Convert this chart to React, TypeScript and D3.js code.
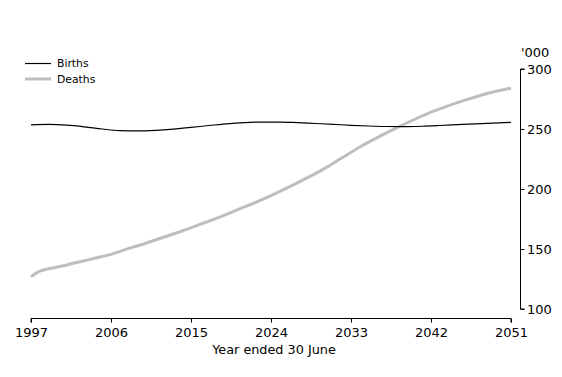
import React from "react";
import * as d3 from "d3";

const birthYears = [1997, 1999, 2001, 2003, 2005, 2007, 2009, 2011, 2013, 2015, 2017, 2019, 2021, 2023, 2025, 2027, 2029, 2031, 2033, 2035, 2037, 2039, 2041, 2043, 2045, 2047, 2049, 2051];
const births = [253.5, 253.8, 253.2, 251.8, 250.0, 248.6, 248.4, 248.9, 249.9, 251.3, 252.9, 254.3, 255.3, 255.8, 255.8, 255.3, 254.6, 253.9, 253.1, 252.5, 252.1, 252.0, 252.3, 252.9, 253.6, 254.3, 254.9, 255.5];

const deathYears = [1997, 1998, 1999, 2000, 2002, 2004, 2006, 2008, 2010, 2012, 2014, 2016, 2018, 2020, 2022, 2024, 2026, 2028, 2030, 2032, 2034, 2036, 2038, 2040, 2042, 2044, 2046, 2048, 2050, 2051];
const deaths = [127, 131.5, 133.5, 135, 138.5, 142, 145.5, 150.5, 155, 160, 165, 170.5, 176, 182, 188, 194.5, 201.5, 209, 217, 226, 235, 243, 250.5, 257.5, 264, 269.5, 274.5, 279, 282.5, 284];

const xTicks = [1997, 2006, 2015, 2024, 2033, 2042, 2051];
const yTicks = [100, 150, 200, 250, 300];
const seriesNames = ["Births", "Deaths"];

const FONT = "DejaVu Sans, sans-serif";

export default function App() {
  const x = d3.scaleLinear().domain([1997, 2051]).range([31, 511]);
  const y = d3.scaleLinear().domain([100, 300]).range([309, 69]);

  const lineB = d3
    .line<number>()
    .x((_, i) => x(birthYears[i]))
    .y((d) => y(d))
    .curve(d3.curveMonotoneX);
  const lineD = d3
    .line<number>()
    .x((_, i) => x(deathYears[i]))
    .y((d) => y(d))
    .curve(d3.curveMonotoneX);

  const xAxisY = 318.5;
  const yAxisX = 520.5;

  return (
    <svg
      width={562}
      height={377}
      style={{ position: "absolute", left: 0, top: 0, background: "#fff" }}
      fontFamily={FONT}
    >
      <rect x={0} y={0} width={562} height={377} fill="#fff" />
      {/* lines */}
      <path d={lineD(deaths) || ""} fill="none" stroke="#bebebe" strokeWidth={3} />
      <path d={lineB(births) || ""} fill="none" stroke="#000" strokeWidth={1.2} />

      {/* x axis */}
      <g>
        <path
          d={`M${x(1997)},${xAxisY + 4}V${xAxisY}H${x(2051)}V${xAxisY + 4}`}
          fill="none"
          stroke="#000"
          strokeWidth={1}
        />
        {xTicks.map((t) => (
          <g key={t} transform={`translate(${Math.round(x(t)) + 0.5},0)`}>
            <line y1={xAxisY} y2={xAxisY + 4} stroke="#000" />
            <text y={336.5} textAnchor="middle" fontSize={13} fill="#000">
              {t}
            </text>
          </g>
        ))}
        <text x={274} y={354} textAnchor="middle" fontSize={12.8} fill="#000">
          Year ended 30 June
        </text>
      </g>

      {/* y axis */}
      <g>
        <path
          d={`M${yAxisX + 4},${y(300)}H${yAxisX}V${y(100)}H${yAxisX + 4}`}
          fill="none"
          stroke="#000"
          strokeWidth={1}
        />
        {yTicks.map((t) => (
          <g key={t} transform={`translate(0,${Math.round(y(t)) + 0.5})`}>
            <line x1={yAxisX} x2={yAxisX + 4} stroke="#000" />
            <text x={527} y={4.5} fontSize={13} fill="#000">
              {t}
            </text>
          </g>
        ))}
        <text x={521} y={57} fontSize={13} fill="#000">
          '000
        </text>
      </g>

      {/* legend */}
      <g>
        <line x1={25} x2={51} y1={63.5} y2={63.5} stroke="#000" strokeWidth={1.2} />
        <text x={57} y={66.5} fontSize={10.8} fill="#000">
          {seriesNames[0]}
        </text>
        <line x1={25} x2={51} y1={79} y2={79} stroke="#bebebe" strokeWidth={3} />
        <text x={57} y={82.5} fontSize={10.8} fill="#000">
          {seriesNames[1]}
        </text>
      </g>
    </svg>
  );
}
